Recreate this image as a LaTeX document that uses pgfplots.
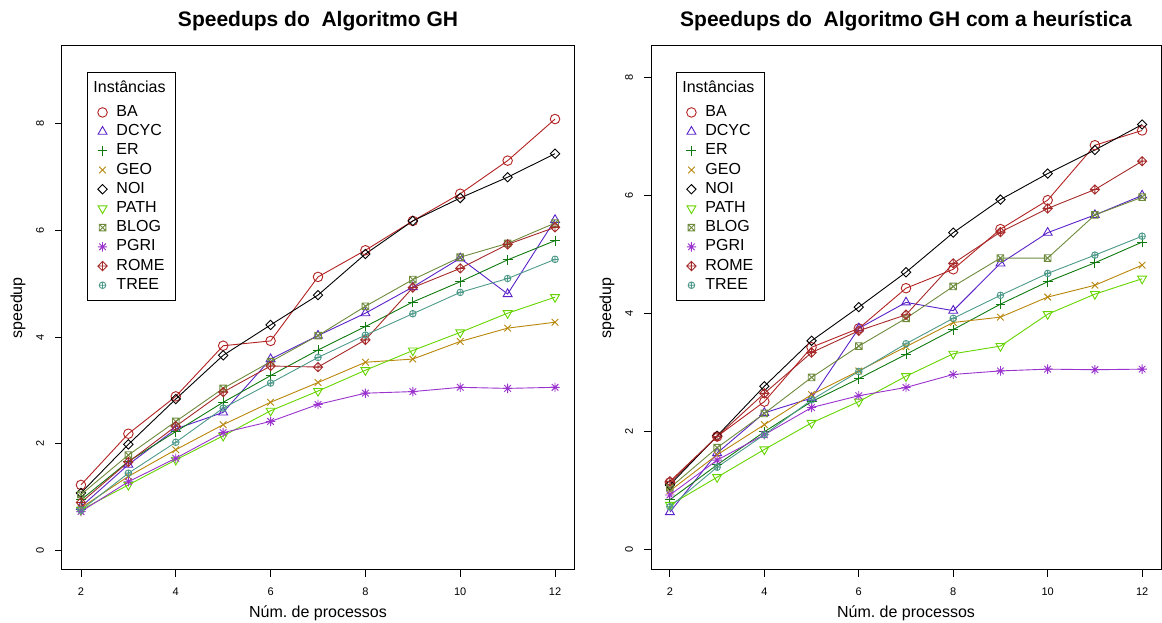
\documentclass[border=0pt]{standalone}
\usepackage{fontspec}
\setmainfont{Liberation Sans}
\usepackage{pgfplots}
\pgfplotsset{compat=1.18}
\frenchspacing

\definecolor{cBA}{HTML}{B22222}
\definecolor{cDCYC}{HTML}{5A22C8}
\definecolor{cER}{HTML}{107A10}
\definecolor{cGEO}{HTML}{B8860B}
\definecolor{cNOI}{HTML}{000000}
\definecolor{cPATH}{HTML}{66D400}
\definecolor{cBLOG}{HTML}{6E8B3D}
\definecolor{cPGRI}{HTML}{9A32CD}
\definecolor{cROME}{HTML}{A52A2A}
\definecolor{cTREE}{HTML}{4E9A8A}

\pgfdeclareplotmark{Rcirc}{\pgfpathcircle{\pgfpointorigin}{1.45\pgfplotmarksize}\pgfusepathqstroke}
\pgfdeclareplotmark{Rtri}{%
  \pgfpathmoveto{\pgfpoint{0pt}{1.555\pgfplotmarksize}}%
  \pgfpathlineto{\pgfpoint{1.347\pgfplotmarksize}{-0.778\pgfplotmarksize}}%
  \pgfpathlineto{\pgfpoint{-1.347\pgfplotmarksize}{-0.778\pgfplotmarksize}}%
  \pgfpathclose\pgfusepathqstroke}
\pgfdeclareplotmark{Rtridown}{%
  \pgfpathmoveto{\pgfpoint{0pt}{-1.555\pgfplotmarksize}}%
  \pgfpathlineto{\pgfpoint{1.347\pgfplotmarksize}{0.778\pgfplotmarksize}}%
  \pgfpathlineto{\pgfpoint{-1.347\pgfplotmarksize}{0.778\pgfplotmarksize}}%
  \pgfpathclose\pgfusepathqstroke}
\pgfdeclareplotmark{Rplus}{%
  \pgfpathmoveto{\pgfpoint{-1.5\pgfplotmarksize}{0pt}}\pgfpathlineto{\pgfpoint{1.5\pgfplotmarksize}{0pt}}%
  \pgfpathmoveto{\pgfpoint{0pt}{-1.5\pgfplotmarksize}}\pgfpathlineto{\pgfpoint{0pt}{1.5\pgfplotmarksize}}%
  \pgfusepathqstroke}
\pgfdeclareplotmark{Rtimes}{%
  \pgfpathmoveto{\pgfpoint{-\pgfplotmarksize}{-\pgfplotmarksize}}\pgfpathlineto{\pgfpoint{\pgfplotmarksize}{\pgfplotmarksize}}%
  \pgfpathmoveto{\pgfpoint{-\pgfplotmarksize}{\pgfplotmarksize}}\pgfpathlineto{\pgfpoint{\pgfplotmarksize}{-\pgfplotmarksize}}%
  \pgfusepathqstroke}
\pgfdeclareplotmark{Rdiamond}{%
  \pgfpathmoveto{\pgfpoint{-1.414\pgfplotmarksize}{0pt}}%
  \pgfpathlineto{\pgfpoint{0pt}{1.414\pgfplotmarksize}}%
  \pgfpathlineto{\pgfpoint{1.414\pgfplotmarksize}{0pt}}%
  \pgfpathlineto{\pgfpoint{0pt}{-1.414\pgfplotmarksize}}%
  \pgfpathclose\pgfusepathqstroke}
\pgfdeclareplotmark{Rboxtimes}{%
  \pgfpathrectangle{\pgfpoint{-\pgfplotmarksize}{-\pgfplotmarksize}}{\pgfpoint{2\pgfplotmarksize}{2\pgfplotmarksize}}%
  \pgfpathmoveto{\pgfpoint{-\pgfplotmarksize}{-\pgfplotmarksize}}\pgfpathlineto{\pgfpoint{\pgfplotmarksize}{\pgfplotmarksize}}%
  \pgfpathmoveto{\pgfpoint{-\pgfplotmarksize}{\pgfplotmarksize}}\pgfpathlineto{\pgfpoint{\pgfplotmarksize}{-\pgfplotmarksize}}%
  \pgfusepathqstroke}
\pgfdeclareplotmark{Rstar}{%
  \pgfpathmoveto{\pgfpoint{-\pgfplotmarksize}{-\pgfplotmarksize}}\pgfpathlineto{\pgfpoint{\pgfplotmarksize}{\pgfplotmarksize}}%
  \pgfpathmoveto{\pgfpoint{-\pgfplotmarksize}{\pgfplotmarksize}}\pgfpathlineto{\pgfpoint{\pgfplotmarksize}{-\pgfplotmarksize}}%
  \pgfpathmoveto{\pgfpoint{-1.414\pgfplotmarksize}{0pt}}\pgfpathlineto{\pgfpoint{1.414\pgfplotmarksize}{0pt}}%
  \pgfpathmoveto{\pgfpoint{0pt}{-1.414\pgfplotmarksize}}\pgfpathlineto{\pgfpoint{0pt}{1.414\pgfplotmarksize}}%
  \pgfusepathqstroke}
\pgfdeclareplotmark{Rdiamondplus}{%
  \pgfpathmoveto{\pgfpoint{-1.414\pgfplotmarksize}{0pt}}%
  \pgfpathlineto{\pgfpoint{0pt}{1.414\pgfplotmarksize}}%
  \pgfpathlineto{\pgfpoint{1.414\pgfplotmarksize}{0pt}}%
  \pgfpathlineto{\pgfpoint{0pt}{-1.414\pgfplotmarksize}}%
  \pgfpathclose
  \pgfpathmoveto{\pgfpoint{-1.414\pgfplotmarksize}{0pt}}\pgfpathlineto{\pgfpoint{1.414\pgfplotmarksize}{0pt}}%
  \pgfpathmoveto{\pgfpoint{0pt}{-1.414\pgfplotmarksize}}\pgfpathlineto{\pgfpoint{0pt}{1.414\pgfplotmarksize}}%
  \pgfusepathqstroke}
\pgfdeclareplotmark{Roplus}{%
  \pgfpathcircle{\pgfpointorigin}{\pgfplotmarksize}%
  \pgfpathmoveto{\pgfpoint{-\pgfplotmarksize}{0pt}}\pgfpathlineto{\pgfpoint{\pgfplotmarksize}{0pt}}%
  \pgfpathmoveto{\pgfpoint{0pt}{-\pgfplotmarksize}}\pgfpathlineto{\pgfpoint{0pt}{\pgfplotmarksize}}%
  \pgfusepathqstroke}

\pgfplotsset{
  Rstyle/.style={
    scale only axis,
    xmin=1.6, xmax=12.4,
    xtick={2,4,6,8,10,12},
    ytick={0,2,4,6,8},
    xtick pos=left, ytick pos=left,
    tick align=outside,
    major tick length=7pt,
    every tick/.style={black, line width=0.9pt},
    axis line style={line width=1pt},
    /pgf/number format/assume math mode=true,
    ticklabel style={font=\fontsize{11}{13}\selectfont},
    yticklabel style={rotate=90, anchor=center, yshift=15pt},
    xticklabel style={anchor=center, yshift=-15pt},
    title style={font=\fontsize{21}{24}\selectfont\bfseries, at={(0.5,1)}, anchor=base, yshift=13pt},
    xlabel style={font=\fontsize{16}{19}\selectfont, at={(axis description cs:0.5,0)}, anchor=base, yshift=-48pt},
    ylabel style={font=\fontsize{16}{19}\selectfont, at={(axis description cs:0,0.5)}, anchor=center, yshift=44pt},
    xlabel={Núm. de processos},
    ylabel={speedup},
    every axis plot/.append style={line width=0.9pt, mark size=3.3pt, mark options={solid, line width=0.9pt}},
    legend cell align=left,
    legend image code/.code={\draw[mark repeat=2,mark phase=2,#1,only marks] plot coordinates {(0pt,0pt) (7pt,0pt) (14pt,0pt)};},
    legend style={at={(0.049,0.95)}, anchor=north west, draw=black, line width=0.9pt,
      font=\fontsize{16}{19}\selectfont,
      nodes={text height=12pt, text depth=4pt, inner ysep=1.6pt},
      /tikz/every odd column/.append style={column sep=7pt},
      inner xsep=8pt, inner ysep=6pt},
  },
  pBA/.style={color=cBA, mark=Rcirc},
  pDCYC/.style={color=cDCYC, mark=Rtri},
  pER/.style={color=cER, mark=Rplus},
  pGEO/.style={color=cGEO, mark=Rtimes},
  pNOI/.style={color=cNOI, mark=Rdiamond},
  pPATH/.style={color=cPATH, mark=Rtridown},
  pBLOG/.style={color=cBLOG, mark=Rboxtimes},
  pPGRI/.style={color=cPGRI, mark=Rstar},
  pROME/.style={color=cROME, mark=Rdiamondplus},
  pTREE/.style={color=cTREE, mark=Roplus},
}

\begin{document}
\begin{tikzpicture}
\useasboundingbox (0pt,0pt) rectangle (1162pt,623pt);

% ---------------- Left ----------------
\begin{axis}[Rstyle,
  at={(62pt,53pt)}, anchor=south west,
  width=512pt, height=524pt,
  ymin=-0.365, ymax=9.46,
  title={Speedups do\ \ Algoritmo GH}]
\addlegendimage{empty legend}
\addlegendentry[text depth=9pt]{\hspace*{-23pt}Instâncias}
\addplot[pBA] coordinates {(2,1.23)(3,2.19)(4,2.89)(5,3.84)(6,3.93)(7,5.13)(8,5.63)(9,6.18)(10,6.69)(11,7.31)(12,8.09)};
\addlegendentry{BA}
\addplot[pDCYC] coordinates {(2,0.82)(3,1.61)(4,2.28)(5,2.59)(6,3.59)(7,4.03)(8,4.45)(9,4.94)(10,5.48)(11,4.81)(12,6.20)};
\addlegendentry{DCYC}
\addplot[pER] coordinates {(2,0.95)(3,1.67)(4,2.23)(5,2.78)(6,3.28)(7,3.76)(8,4.20)(9,4.66)(10,5.04)(11,5.45)(12,5.81)};
\addlegendentry{ER}
\addplot[pGEO] coordinates {(2,0.80)(3,1.39)(4,1.89)(5,2.36)(6,2.78)(7,3.15)(8,3.53)(9,3.59)(10,3.92)(11,4.17)(12,4.28)};
\addlegendentry{GEO}
\addplot[pNOI] coordinates {(2,1.08)(3,1.99)(4,2.84)(5,3.66)(6,4.23)(7,4.79)(8,5.56)(9,6.18)(10,6.61)(11,7.00)(12,7.44)};
\addlegendentry{NOI}
\addplot[pPATH] coordinates {(2,0.76)(3,1.23)(4,1.70)(5,2.15)(6,2.62)(7,2.99)(8,3.38)(9,3.75)(10,4.09)(11,4.45)(12,4.75)};
\addlegendentry{PATH}
\addplot[pBLOG] coordinates {(2,1.05)(3,1.79)(4,2.42)(5,3.04)(6,3.54)(7,4.03)(8,4.58)(9,5.08)(10,5.50)(11,5.76)(12,6.14)};
\addlegendentry{BLOG}
\addplot[pPGRI] coordinates {(2,0.73)(3,1.29)(4,1.73)(5,2.21)(6,2.42)(7,2.74)(8,2.95)(9,2.98)(10,3.06)(11,3.04)(12,3.06)};
\addlegendentry{PGRI}
\addplot[pROME] coordinates {(2,0.90)(3,1.66)(4,2.33)(5,2.97)(6,3.46)(7,3.44)(8,3.95)(9,4.93)(10,5.29)(11,5.74)(12,6.06)};
\addlegendentry{ROME}
\addplot[pTREE] coordinates {(2,0.76)(3,1.45)(4,2.03)(5,2.67)(6,3.14)(7,3.62)(8,4.04)(9,4.44)(10,4.84)(11,5.10)(12,5.46)};
\addlegendentry{TREE}
\end{axis}

% ---------------- Right ----------------
\begin{axis}[Rstyle,
  at={(651pt,53pt)}, anchor=south west,
  width=510pt, height=524pt,
  ymin=-0.34, ymax=8.53,
  title={Speedups do\ \ Algoritmo GH com a heurística}]
\addlegendimage{empty legend}
\addlegendentry[text depth=9pt]{\hspace*{-23pt}Instâncias}
\addplot[pBA] coordinates {(2,1.14)(3,1.92)(4,2.51)(5,3.43)(6,3.75)(7,4.43)(8,4.75)(9,5.43)(10,5.92)(11,6.85)(12,7.10)};
\addlegendentry{BA}
\addplot[pDCYC] coordinates {(2,0.64)(3,1.64)(4,2.32)(5,2.57)(6,3.75)(7,4.19)(8,4.05)(9,4.85)(10,5.37)(11,5.67)(12,6.00)};
\addlegendentry{DCYC}
\addplot[pER] coordinates {(2,0.85)(3,1.44)(4,2.00)(5,2.51)(6,2.90)(7,3.31)(8,3.73)(9,4.16)(10,4.54)(11,4.86)(12,5.21)};
\addlegendentry{ER}
\addplot[pGEO] coordinates {(2,1.00)(3,1.61)(4,2.12)(5,2.63)(6,3.03)(7,3.44)(8,3.85)(9,3.94)(10,4.28)(11,4.48)(12,4.82)};
\addlegendentry{GEO}
\addplot[pNOI] coordinates {(2,1.10)(3,1.93)(4,2.77)(5,3.54)(6,4.11)(7,4.70)(8,5.37)(9,5.93)(10,6.37)(11,6.77)(12,7.20)};
\addlegendentry{NOI}
\addplot[pPATH] coordinates {(2,0.76)(3,1.23)(4,1.70)(5,2.15)(6,2.51)(7,2.94)(8,3.32)(9,3.45)(10,3.99)(11,4.33)(12,4.59)};
\addlegendentry{PATH}
\addplot[pBLOG] coordinates {(2,1.05)(3,1.73)(4,2.31)(5,2.92)(6,3.45)(7,3.92)(8,4.46)(9,4.94)(10,4.94)(11,5.67)(12,5.97)};
\addlegendentry{BLOG}
\addplot[pPGRI] coordinates {(2,0.93)(3,1.52)(4,1.95)(5,2.41)(6,2.61)(7,2.75)(8,2.97)(9,3.03)(10,3.06)(11,3.05)(12,3.06)};
\addlegendentry{PGRI}
\addplot[pROME] coordinates {(2,1.16)(3,1.92)(4,2.65)(5,3.34)(6,3.71)(7,3.98)(8,4.85)(9,5.38)(10,5.78)(11,6.10)(12,6.58)};
\addlegendentry{ROME}
\addplot[pTREE] coordinates {(2,0.73)(3,1.40)(4,1.95)(5,2.54)(6,3.02)(7,3.49)(8,3.92)(9,4.31)(10,4.68)(11,4.99)(12,5.31)};
\addlegendentry{TREE}
\end{axis}
\end{tikzpicture}
\end{document}
